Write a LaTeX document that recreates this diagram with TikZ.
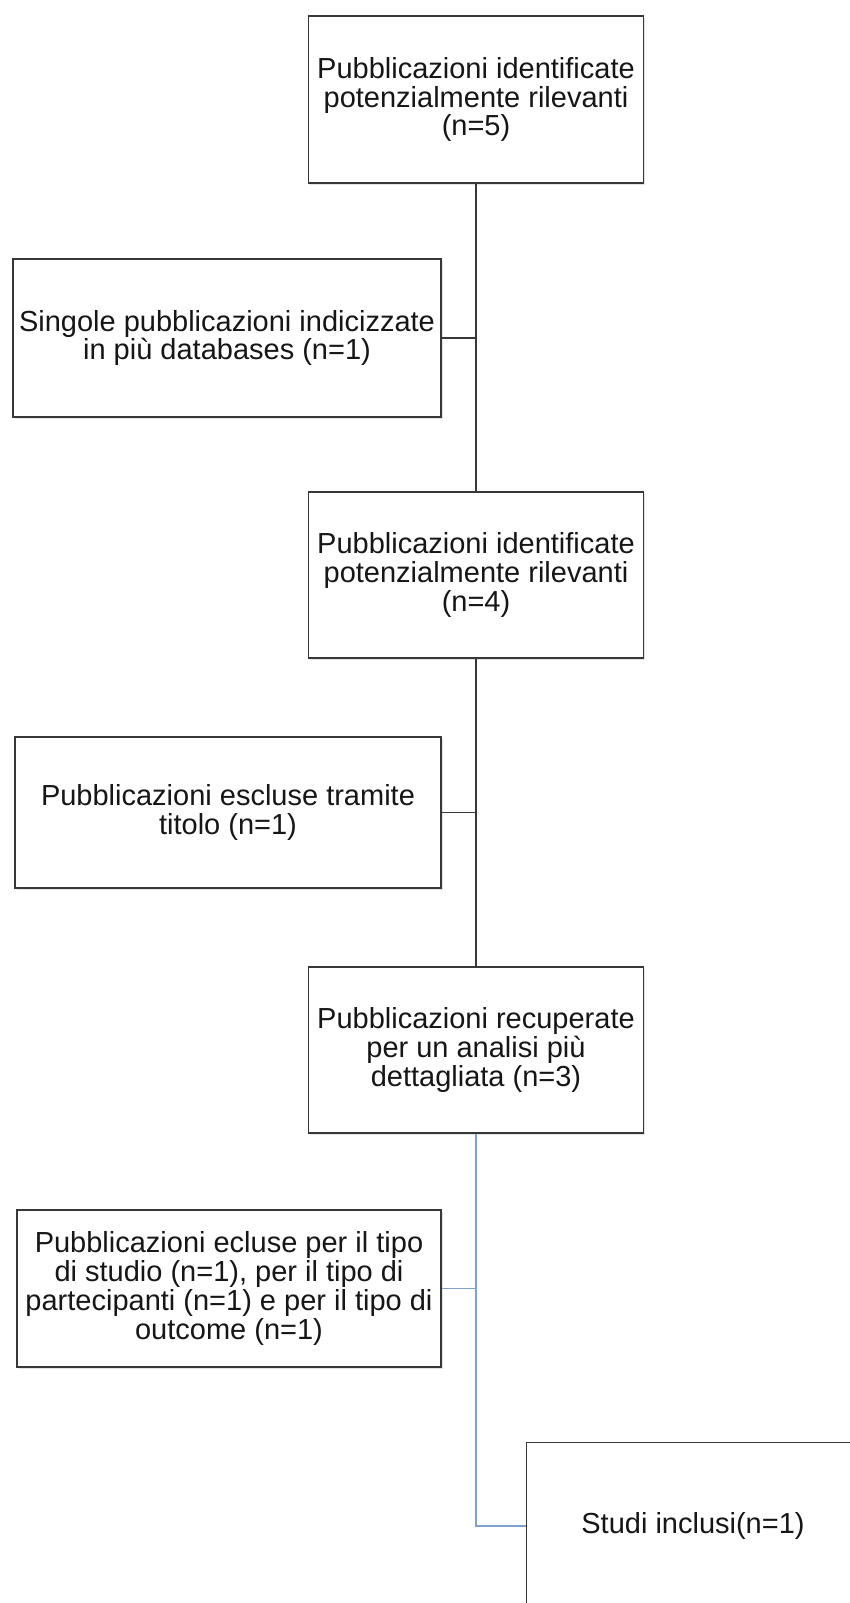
\documentclass[tikz,border=0pt]{standalone}
\usepackage{fontspec}
\setmainfont{Liberation Sans}
\usetikzlibrary{shadows}
\definecolor{boxline}{RGB}{55,55,55}
\definecolor{txtcol}{RGB}{22,22,22}
\definecolor{blueline}{RGB}{125,162,205}
\tikzset{
  box/.style={draw=boxline, line width=1.4pt, fill=white, rectangle, align=center,
    inner sep=0pt, text=txtcol,
    drop shadow={shadow xshift=1.5pt, shadow yshift=-2pt, opacity=0.18, fill=black!60},
    font=\fontsize{29pt}{28.7pt}\selectfont},
  plaintxt/.style={inner sep=0pt, text=txtcol, align=center, font=\fontsize{29pt}{28.7pt}\selectfont},
  conn/.style={draw=boxline, line width=1.2pt},
  blueconn/.style={draw=blueline, line width=1.2pt}
}
\begin{document}
\begin{tikzpicture}[x=1pt,y=-1pt]
\clip (0,0) rectangle (850,1603);
\fill[white] (0,0) rectangle (850,1603);

\node[box, minimum width=335pt, minimum height=167pt] (b1) at (476,99.5)
  {Pubblicazioni identificate\\potenzialmente rilevanti\\(n=5)};
\node[box, minimum width=428pt, minimum height=158pt] (b2) at (227,338)
  {Singole pubblicazioni indicizzate\\in più databases (n=1)};
\node[box, minimum width=335pt, minimum height=166pt] (b3) at (476,575)
  {Pubblicazioni identificate\\potenzialmente rilevanti\\(n=4)};
\node[box, minimum width=426pt, minimum height=151pt] (b4) at (228,812.5)
  {Pubblicazioni escluse tramite\\titolo (n=1)};
\node[box, minimum width=335pt, minimum height=166pt] (b5) at (476,1050)
  {Pubblicazioni recuperate\\per un analisi più\\dettagliata (n=3)};
\node[box, minimum width=424pt, minimum height=157pt] (b6) at (229,1288.5)
  {Pubblicazioni ecluse per il tipo\\di studio (n=1), per il tipo di\\partecipanti (n=1) e per il tipo di\\outcome (n=1)};
\node[box, minimum width=335pt, minimum height=240pt, anchor=north west] (b7) at (526,1442) {};
\node[plaintxt] (t7) at (693,1526) {Studi inclusi(n=1)};
\coordinate (j7) at (b7.west |- t7);

\draw[conn] (b1.south) -- (b3.north);
\draw[conn] (b2.east) -- (b2.east -| b1.south);
\draw[conn] (b3.south) -- (b5.north);
\draw[conn] (b4.east) -- (b4.east -| b3.south);
\draw[blueconn] (b5.south) |- (j7);
\draw[blueconn] (b6.east) -- (b6.east -| b5.south);
\end{tikzpicture}
\end{document}
